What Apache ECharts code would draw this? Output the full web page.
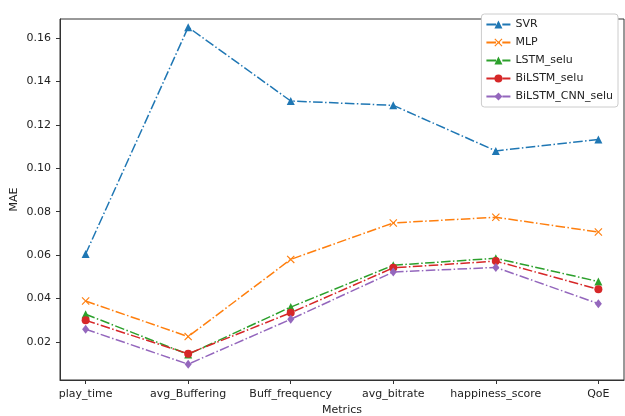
<!DOCTYPE html>
<html>
<head>
<meta charset="utf-8">
<script src="https://cdn.jsdelivr.net/npm/echarts@6/dist/echarts.min.js"></script>
<style>
  html, body { margin: 0; padding: 0; background: #fff; }
  #main { width: 625px; height: 416px; }
</style>
</head>
<body>
<div id="main"></div>
<script>
var categories = ['play_time', 'avg_Buffering', 'Buff_frequency', 'avg_bitrate', 'happiness_score', 'QoE'];
var svr = [0.0605, 0.165, 0.131, 0.129, 0.108, 0.1133];
var mlp = [0.0388, 0.0224, 0.058, 0.0748, 0.0774, 0.0706];
var lstm = [0.0327, 0.0142, 0.036, 0.0553, 0.0585, 0.0478];
var bilstm = [0.0299, 0.0145, 0.0334, 0.0541, 0.0572, 0.0442];
var bilstmCnn = [0.0258, 0.0097, 0.0304, 0.0522, 0.0543, 0.0376];
var yTicks = [0.02, 0.04, 0.06, 0.08, 0.10, 0.12, 0.14, 0.16];

var xTicks = [];
for (var i = 0; i < categories.length; i++) xTicks.push(i);

function toPairs(arr) {
    var out = [];
    for (var i = 0; i < arr.length; i++) out.push([i, arr[i]]);
    return out;
}

var dashDot = [9.6, 2.4, 1.5, 2.4];
var xPath = 'path://M0,1L1,0L5,4L9,0L10,1L6,5L10,9L9,10L5,6L1,10L0,9L4,5Z';
var font = 'DejaVu Sans';

function makeSeries(name, data, color, symbol, size) {
    return {
        name: name,
        type: 'line',
        data: toPairs(data),
        symbol: symbol,
        symbolSize: size,
        showAllSymbol: true,
        itemStyle: { color: color },
        lineStyle: { color: color, width: 1.5, type: dashDot },
        emphasis: { disabled: true },
        animation: false
    };
}

var myChart = echarts.init(document.getElementById('main'));
var option = {
    backgroundColor: '#fff',
    textStyle: { fontFamily: font },
    grid: {
        left: 60, right: 1, top: 19, bottom: 36,
        outerBoundsMode: 'none',
        containLabel: false,
        show: true,
        borderColor: '#333',
        borderWidth: 1
    },
    legend: {
        orient: 'vertical',
        right: 7,
        top: 14,
        itemWidth: 24,
        itemHeight: 10,
        itemGap: 7,
        padding: [5, 5, 5, 4],
        borderColor: '#ccc',
        borderWidth: 1,
        borderRadius: 3,
        backgroundColor: '#fff',
        textStyle: { fontFamily: font, fontSize: 11, color: '#222' },
        data: ['SVR', 'MLP', 'LSTM_selu', 'BiLSTM_selu', 'BiLSTM_CNN_selu']
    },
    xAxis: {
        type: 'value',
        min: -0.25,
        max: 5.25,
        name: 'Metrics',
        nameLocation: 'middle',
        nameGap: 24,
        nameTextStyle: { fontFamily: font, fontSize: 11, color: '#222' },
        axisLine: { show: true, onZero: false, lineStyle: { color: '#333' } },
        splitLine: { show: false },
        axisTick: { show: true, customValues: xTicks, length: 4, lineStyle: { color: '#333' } },
        axisLabel: {
            customValues: xTicks,
            fontFamily: font,
            fontSize: 11,
            color: '#222',
            margin: 9,
            formatter: function (v) { return categories[Math.round(v)]; }
        }
    },
    yAxis: {
        type: 'value',
        min: 0.0024,
        max: 0.1688,
        name: 'MAE',
        nameLocation: 'middle',
        nameGap: 40,
        nameMoveOverlap: false,
        nameTextStyle: { fontFamily: font, fontSize: 11, color: '#222' },
        axisLine: { show: true, onZero: false, lineStyle: { color: '#333' } },
        splitLine: { show: false },
        axisTick: { show: true, customValues: yTicks, length: 4, lineStyle: { color: '#333' } },
        axisLabel: {
            customValues: yTicks,
            fontFamily: font,
            fontSize: 11,
            color: '#222',
            margin: 9,
            formatter: function (v) { return v.toFixed(2); }
        }
    },
    series: [
        makeSeries('SVR', svr, '#1f77b4', 'triangle', 8),
        makeSeries('MLP', mlp, '#ff7f0e', xPath, 8),
        makeSeries('LSTM_selu', lstm, '#2ca02c', 'triangle', 8),
        makeSeries('BiLSTM_selu', bilstm, '#d62728', 'circle', 8),
        makeSeries('BiLSTM_CNN_selu', bilstmCnn, '#9467bd', 'diamond', [7, 9])
    ]
};
myChart.setOption(option);
</script>
</body>
</html>
